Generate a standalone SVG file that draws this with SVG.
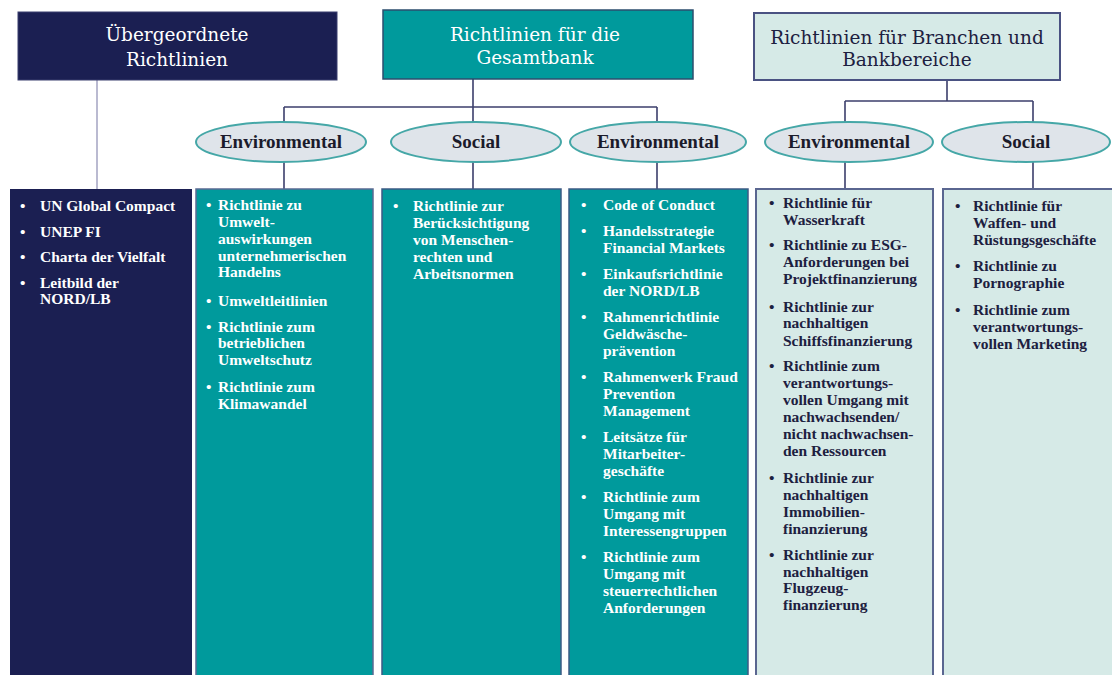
<svg xmlns="http://www.w3.org/2000/svg" width="1112" height="675" viewBox="0 0 1112 675">
<style>
.hd{font-family:"DejaVu Serif","Liberation Serif",serif;font-size:18.5px;text-anchor:middle}
.el{font-family:"Liberation Serif",serif;font-weight:bold;font-size:19px;fill:#1b1b2b;text-anchor:middle}
.ct{font-family:"Liberation Serif",serif;font-weight:bold;font-size:15.5px}
.w{fill:#ffffff}
.d{fill:#1d2040}
.con{stroke:#3c3f6c;stroke-width:1.6;fill:none}
.oval{fill:#dfe4ea;stroke:#45a7a7;stroke-width:2}
</style>
<rect width="1112" height="675" fill="#ffffff"/>
<g id="connectors">
<line x1="97" y1="80" x2="97" y2="190" stroke="#a9a9c6" stroke-width="1.6"/>
<path class="con" d="M473 79V107M284 107H657M284 107V122M473 107V122M657 107V122M284 162V190M473 162V190M657 162V190"/>
<path class="con" d="M947 80V101M845 101H1033M845 101V122M1033 101V122M845 162V190M1033 162V190"/>
</g>
<g id="box-uebergeordnet">
<rect x="18" y="12" width="319" height="68" fill="#1b1f52" stroke="#3a3f6e" stroke-width="1"/>
<text class="hd w" x="177" y="41">Übergeordnete</text>
<text class="hd w" x="177" y="66">Richtlinien</text>
</g>
<g id="box-gesamtbank">
<rect x="383" y="10" width="310" height="69" fill="#009a9c" stroke="#2c4e6e" stroke-width="1.5"/>
<text class="hd w" x="535" y="41">Richtlinien für die</text>
<text class="hd w" x="535" y="64">Gesamtbank</text>
</g>
<g id="box-branchen">
<rect x="754" y="13" width="306" height="67" fill="#d6eae7" stroke="#4a5282" stroke-width="2"/>
<text class="hd d" x="907" y="44">Richtlinien für Branchen und</text>
<text class="hd d" x="907" y="66">Bankbereiche</text>
</g>
<g id="oval-env-1"><ellipse class="oval" cx="281" cy="142" rx="85" ry="20"/><text class="el" x="281" y="148">Environmental</text></g>
<g id="oval-social-1"><ellipse class="oval" cx="476" cy="142" rx="85" ry="20"/><text class="el" x="476" y="148">Social</text></g>
<g id="oval-env-2"><ellipse class="oval" cx="658" cy="142" rx="88" ry="20"/><text class="el" x="658" y="148">Environmental</text></g>
<g id="oval-env-3"><ellipse class="oval" cx="849" cy="142" rx="84" ry="20"/><text class="el" x="849" y="148">Environmental</text></g>
<g id="oval-social-2"><ellipse class="oval" cx="1026" cy="142" rx="84" ry="20"/><text class="el" x="1026" y="148">Social</text></g>
<g id="col-1">
<rect x="10" y="189" width="182" height="492" fill="#1b1f52"/>
<g class="ct w">
<text x="20" y="211">•</text><text x="40" y="211">UN Global Compact</text>
<text x="20" y="237">•</text><text x="40" y="237">UNEP FI</text>
<text x="20" y="262">•</text><text x="40" y="262">Charta der Vielfalt</text>
<text x="20" y="288">•</text><text x="40" y="288">Leitbild der</text>
<text x="40" y="304">NORD/LB</text>
</g>
</g>
<g id="col-2">
<rect x="196" y="189" width="177" height="492" fill="#009a9c" stroke="#5a6a92" stroke-width="1.5"/>
<g class="ct w">
<text x="206" y="210">•</text><text x="218" y="210">Richtlinie zu</text>
<text x="218" y="227">Umwelt-</text>
<text x="218" y="244">auswirkungen</text>
<text x="218" y="261">unternehmerischen</text>
<text x="218" y="277">Handelns</text>
<text x="206" y="306">•</text><text x="218" y="306">Umweltleitlinien</text>
<text x="206" y="332">•</text><text x="218" y="332">Richtlinie zum</text>
<text x="218" y="348">betrieblichen</text>
<text x="218" y="365">Umweltschutz</text>
<text x="206" y="392">•</text><text x="218" y="392">Richtlinie zum</text>
<text x="218" y="409">Klimawandel</text>
</g>
</g>
<g id="col-3">
<rect x="382" y="189" width="179" height="492" fill="#009a9c" stroke="#3d5a84" stroke-width="1.5"/>
<g class="ct w">
<text x="393" y="211">•</text><text x="413" y="211">Richtlinie zur</text>
<text x="413" y="228">Berücksichtigung</text>
<text x="413" y="245">von Menschen-</text>
<text x="413" y="262">rechten und</text>
<text x="413" y="279">Arbeitsnormen</text>
</g>
</g>
<g id="col-4">
<rect x="569" y="189" width="179" height="492" fill="#009a9c" stroke="#3d5a84" stroke-width="1.5"/>
<g class="ct w">
<text x="581" y="210">•</text><text x="603" y="210">Code of Conduct</text>
<text x="581" y="236">•</text><text x="603" y="236">Handelsstrategie</text>
<text x="603" y="253">Financial Markets</text>
<text x="581" y="279">•</text><text x="603" y="279">Einkaufsrichtlinie</text>
<text x="603" y="296">der NORD/LB</text>
<text x="581" y="322">•</text><text x="603" y="322">Rahmenrichtlinie</text>
<text x="603" y="339">Geldwäsche-</text>
<text x="603" y="356">prävention</text>
<text x="581" y="382">•</text><text x="603" y="382">Rahmenwerk Fraud</text>
<text x="603" y="399">Prevention</text>
<text x="603" y="416">Management</text>
<text x="581" y="442">•</text><text x="603" y="442">Leitsätze für</text>
<text x="603" y="459">Mitarbeiter-</text>
<text x="603" y="476">geschäfte</text>
<text x="581" y="502">•</text><text x="603" y="502">Richtlinie zum</text>
<text x="603" y="519">Umgang mit</text>
<text x="603" y="536">Interessengruppen</text>
<text x="581" y="562">•</text><text x="603" y="562">Richtlinie zum</text>
<text x="603" y="579">Umgang mit</text>
<text x="603" y="596">steuerrechtlichen</text>
<text x="603" y="613">Anforderungen</text>
</g>
</g>
<g id="col-5">
<rect x="756" y="189" width="177" height="492" fill="#d6eae7" stroke="#5a6690" stroke-width="2"/>
<g class="ct d">
<text x="769" y="208">•</text><text x="783" y="208">Richtlinie für</text>
<text x="783" y="225">Wasserkraft</text>
<text x="769" y="250">•</text><text x="783" y="250">Richtlinie zu ESG-</text>
<text x="783" y="267">Anforderungen bei</text>
<text x="783" y="284">Projektfinanzierung</text>
<text x="769" y="312">•</text><text x="783" y="312">Richtlinie zur</text>
<text x="783" y="328">nachhaltigen</text>
<text x="783" y="346">Schiffsfinanzierung</text>
<text x="769" y="371">•</text><text x="783" y="371">Richtlinie zum</text>
<text x="783" y="388">verantwortungs-</text>
<text x="783" y="405">vollen Umgang mit</text>
<text x="783" y="422">nachwachsenden/</text>
<text x="783" y="439">nicht nachwachsen-</text>
<text x="783" y="456">den Ressourcen</text>
<text x="769" y="483">•</text><text x="783" y="483">Richtlinie zur</text>
<text x="783" y="500">nachhaltigen</text>
<text x="783" y="517">Immobilien-</text>
<text x="783" y="534">finanzierung</text>
<text x="769" y="560">•</text><text x="783" y="560">Richtlinie zur</text>
<text x="783" y="577">nachhaltigen</text>
<text x="783" y="593">Flugzeug-</text>
<text x="783" y="610">finanzierung</text>
</g>
</g>
<g id="col-6">
<rect x="943" y="189" width="180" height="492" fill="#d6eae7" stroke="#5a6690" stroke-width="2"/>
<g class="ct d">
<text x="955" y="211">•</text><text x="973" y="211">Richtlinie für</text>
<text x="973" y="228">Waffen- und</text>
<text x="973" y="245">Rüstungsgeschäfte</text>
<text x="955" y="271">•</text><text x="973" y="271">Richtlinie zu</text>
<text x="973" y="288">Pornographie</text>
<text x="955" y="315">•</text><text x="973" y="315">Richtlinie zum</text>
<text x="973" y="332">verantwortungs-</text>
<text x="973" y="349">vollen Marketing</text>
</g>
</g>
</svg>
